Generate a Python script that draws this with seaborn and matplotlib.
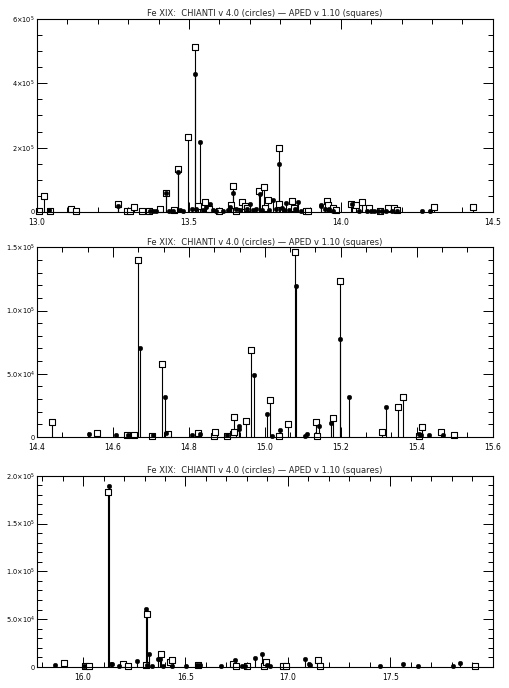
import numpy as np
import pandas as pd
import matplotlib
matplotlib.use("Agg")
import matplotlib.pyplot as plt
import seaborn as sns
from matplotlib.ticker import MultipleLocator

# Fe XIX 谱线强度: CHIANTI v4.0 (圆点) 与 APED v1.10 (方块)
title = "Fe XIX:  CHIANTI v 4.0 (circles) \u2014 APED v 1.10 (squares)"

# ---- 面板 1: 13.0 - 14.5 A ----
p1_chianti_wl = [13.040, 13.266, 13.372, 13.382, 13.392, 13.425, 13.436, 13.446, 13.464, 13.470,
                 13.480, 13.509, 13.519, 13.524, 13.535, 13.545, 13.556, 13.569, 13.580, 13.590,
                 13.612, 13.630, 13.636, 13.646, 13.656, 13.668, 13.690, 13.701, 13.712, 13.722,
                 13.734, 13.740, 13.765, 13.778, 13.786, 13.797, 13.805, 13.812, 13.820, 13.830,
                 13.848, 13.860, 13.870, 13.934, 13.936, 13.948, 13.962, 13.975, 14.036, 14.060,
                 14.085, 14.100, 14.110, 14.122, 14.135, 14.150, 14.168, 14.186, 14.268, 14.295]
p1_chianti_val = [6e3, 2.0e4, 3e3, 2e3, 2e3, 5.8e4, 4e3, 3e3, 1.24e5, 5e3,
                  3e3, 8e3, 4.30e5, 1.0e4, 2.17e5, 5e3, 1.5e4, 2.5e4, 5e3, 4e3,
                  3e3, 5e3, 1.5e4, 5.9e4, 8e3, 6e3, 1.0e4, 2.6e4, 5e3, 8e3,
                  5.7e4, 6e3, 5e3, 3.7e4, 8e3, 1.48e5, 1.2e4, 5e3, 2.8e4, 6e3,
                  1.0e4, 3.0e4, 4e3, 2.2e4, 1.8e4, 8e3, 1.0e4, 4e3, 2.5e4, 4e3,
                  3e3, 3e3, 3e3, 3e3, 3e3, 4e3, 3e3, 3e3, 4e3, 4e3]
p1_aped_wl = [13.007, 13.024, 13.043, 13.111, 13.127, 13.267, 13.295, 13.306, 13.320, 13.345,
              13.370, 13.405, 13.425, 13.452, 13.463, 13.498, 13.519, 13.530, 13.553, 13.565,
              13.600, 13.640, 13.646, 13.655, 13.676, 13.683, 13.690, 13.732, 13.747, 13.752,
              13.759, 13.797, 13.798, 13.839, 13.845, 13.885, 13.893, 13.956, 13.958, 13.975,
              13.985, 14.034, 14.050, 14.070, 14.094, 14.130, 14.154, 14.175, 14.184, 14.307,
              14.436]
p1_aped_val = [4e3, 4.9e4, 4e3, 8e3, 4e3, 2.5e4, 3e3, 3e3, 1.5e4, 2e3,
               4e3, 8e3, 5.8e4, 5e3, 1.33e5, 2.32e5, 5.13e5, 1.8e4, 3.2e4, 8e3,
               3e3, 2.2e4, 8.1e4, 2e3, 3.0e4, 2.0e4, 1.2e4, 6.4e4, 7.9e4, 1.2e4,
               3.8e4, 2.0e5, 2.4e4, 3.4e4, 1.3e4, 2e3, 2e3, 3.3e4, 2.1e4, 1.3e4,
               5e3, 2.4e4, 2.3e4, 3.0e4, 1.2e4, 4e3, 1.3e4, 1.3e4, 6e3, 1.5e4,
               1.5e4]

# ---- 面板 2: 14.4 - 15.6 A ----
p2_chianti_wl = [14.538, 14.607, 14.640, 14.671, 14.706, 14.737, 14.740, 14.807, 14.829, 14.899,
                 14.931, 14.933, 14.972, 15.005, 15.018, 15.041, 15.081, 15.106, 15.110, 15.143,
                 15.174, 15.199, 15.222, 15.318, 15.407, 15.410, 15.432, 15.469]
p2_chianti_val = [2.0e3, 1.5e3, 1.8e3, 7.07e4, 1.8e3, 3.14e4, 3.0e3, 1.5e3, 2.5e3, 1.5e3,
                  8.7e3, 6.6e3, 4.88e4, 1.79e4, 1.0e3, 5.5e3, 1.197e5, 1.0e3, 2.5e3, 8.7e3,
                  1.08e4, 7.75e4, 3.19e4, 2.4e4, 2.0e3, 1.5e3, 1.5e3, 1.8e3]
p2_aped_wl = [14.440, 14.559, 14.638, 14.656, 14.667, 14.702, 14.728, 14.746, 14.825, 14.866,
              14.868, 14.900, 14.916, 14.919, 14.920, 14.950, 14.963, 15.013, 15.036, 15.060,
              15.080, 15.135, 15.136, 15.179, 15.199, 15.309, 15.350, 15.365, 15.405, 15.414,
              15.465, 15.497]
p2_aped_val = [1.21e4, 3.0e3, 1.5e3, 1.5e3, 1.40e5, 1.2e3, 5.75e4, 2.0e3, 3.5e3, 0.8e3,
               4.0e3, 0.8e3, 2.5e3, 1.58e4, 3.7e3, 1.24e4, 6.9e4, 2.9e4, 1.0e3, 1.05e4,
               1.466e5, 1.21e4, 1.0e3, 1.48e4, 1.231e5, 3.7e3, 2.37e4, 3.14e4, 0.8e3, 7.6e3,
               3.7e3, 1.5e3]

# ---- 面板 3: 15.8 - 18.0 A ----
p3_chianti_wl = [15.861, 16.005, 16.127, 16.138, 16.143, 16.175, 16.263, 16.307, 16.310, 16.324,
                 16.335, 16.368, 16.377, 16.390, 16.433, 16.502, 16.556, 16.572, 16.675, 16.742,
                 16.777, 16.789, 16.840, 16.873, 16.900, 16.915, 17.082, 17.103, 17.110, 17.449,
                 17.564, 17.637, 17.806, 17.838]
p3_chianti_val = [2.1e3, 1.5e3, 1.892e5, 3.5e3, 3.5e3, 1.5e3, 6.3e3, 6.06e4, 2.0e3, 1.32e4,
                  1.5e3, 8.7e3, 8.0e3, 1.5e3, 1.5e3, 1.5e3, 2.0e3, 2.0e3, 1.5e3, 7.3e3,
                  1.0e3, 1.0e3, 9.8e3, 1.36e4, 2.0e3, 1.5e3, 8.7e3, 3.5e3, 2.0e3, 1.5e3,
                  3.1e3, 1.5e3, 1.0e3, 4.5e3]
p3_aped_wl = [15.907, 16.008, 16.029, 16.123, 16.193, 16.221, 16.308, 16.314, 16.381, 16.422,
              16.433, 16.560, 16.730, 16.748, 16.799, 16.882, 16.895, 16.974, 16.993, 17.147,
              17.157, 17.912]
p3_aped_val = [3.8e3, 1.0e3, 1.0e3, 1.833e5, 2.8e3, 1.0e3, 2.0e3, 5.54e4, 1.36e4, 5.2e3,
               7.3e3, 2.0e3, 3.0e3, 1.0e3, 1.0e3, 1.0e3, 5.2e3, 0.8e3, 0.8e3, 7.3e3,
               1.5e3, 1.0e3]

# 坐标轴设置
p1_xlim, p2_xlim, p3_xlim = (13.0, 14.5), (14.4, 15.6), (15.775, 18.0)
p1_ylim, p2_ylim, p3_ylim = (0, 6e5), (0, 1.5e5), (0, 2.0e5)
p1_xticks = [13.0, 13.5, 14.0, 14.5]
p2_xticks = [14.4, 14.6, 14.8, 15.0, 15.2, 15.4, 15.6]
p3_xticks = [16.0, 16.5, 17.0, 17.5]
p1_yticks = [0, 2e5, 4e5, 6e5]
p1_ylabels = ["0", r"2$\times$10$^5$", r"4$\times$10$^5$", r"6$\times$10$^5$"]
p2_yticks = [0, 5e4, 1e5, 1.5e5]
p2_ylabels = ["0", r"5.0$\times$10$^4$", r"1.0$\times$10$^5$", r"1.5$\times$10$^5$"]
p3_yticks = [0, 5e4, 1e5, 1.5e5, 2e5]
p3_ylabels = ["0", r"5.0$\times$10$^4$", r"1.0$\times$10$^5$", r"1.5$\times$10$^5$", r"2.0$\times$10$^5$"]

sns.set_style("ticks", {"xtick.direction": "in", "ytick.direction": "in"})
plt.rcParams['font.family'] = ['DejaVu Sans']


def draw_panel(ax, c_wl, c_val, a_wl, a_val, xlim, ylim, xticks, yticks, ylabels, xminor, yminor):
    """画一个面板: 竖线 + 方块 (APED) + 圆点 (CHIANTI)"""
    df_a = pd.DataFrame({"wl": a_wl, "val": a_val})
    df_c = pd.DataFrame({"wl": c_wl, "val": c_val})

    ax.vlines(df_a["wl"], 0, df_a["val"], color="black", lw=0.8, zorder=1)
    ax.vlines(df_c["wl"], 0, df_c["val"], color="black", lw=0.8, zorder=1)
    sns.scatterplot(data=df_a, x="wl", y="val", marker="s", s=13, facecolor="white",
                    edgecolor="black", linewidth=0.8, ax=ax, zorder=2, clip_on=False)
    sns.scatterplot(data=df_c, x="wl", y="val", marker="o", s=11, color="black",
                    edgecolor="black", linewidth=0.3, ax=ax, zorder=3, clip_on=False)

    ax.set_xlim(*xlim)
    ax.set_ylim(*ylim)
    ax.set_xticks(xticks, [f"{t:.1f}" for t in xticks])
    ax.set_yticks(yticks, ylabels)
    ax.xaxis.set_minor_locator(MultipleLocator(xminor))
    ax.yaxis.set_minor_locator(MultipleLocator(yminor))
    ax.tick_params(which="both", direction="in", top=True, right=True, width=0.7, colors="black")
    ax.tick_params(which="major", length=7)
    ax.tick_params(which="minor", length=3.5)
    ax.tick_params(axis="x", labelsize=5.5, pad=4)
    ax.tick_params(axis="y", labelsize=4.8, pad=1.5)
    ax.set_xlabel("")
    ax.set_ylabel("")
    ax.set_title(title, fontsize=6, pad=2)
    for s in ax.spines.values():
        s.set_linewidth(0.8)
        s.set_color("black")


fig = plt.figure(figsize=(5.09, 6.88), dpi=100)
ax1 = fig.add_axes([0.0727, 0.6919, 0.8953, 0.2805])
ax2 = fig.add_axes([0.0727, 0.3648, 0.8953, 0.2757])
ax3 = fig.add_axes([0.0727, 0.0305, 0.8953, 0.2781])

draw_panel(ax1, p1_chianti_wl, p1_chianti_val, p1_aped_wl, p1_aped_val,
           p1_xlim, p1_ylim, p1_xticks, p1_yticks, p1_ylabels, 0.1, 5e4)
draw_panel(ax2, p2_chianti_wl, p2_chianti_val, p2_aped_wl, p2_aped_val,
           p2_xlim, p2_ylim, p2_xticks, p2_yticks, p2_ylabels, 0.2 / 3, 1e4)
draw_panel(ax3, p3_chianti_wl, p3_chianti_val, p3_aped_wl, p3_aped_val,
           p3_xlim, p3_ylim, p3_xticks, p3_yticks, p3_ylabels, 0.1, 1e4)

plt.savefig("out.png", dpi=100)
plt.close()
